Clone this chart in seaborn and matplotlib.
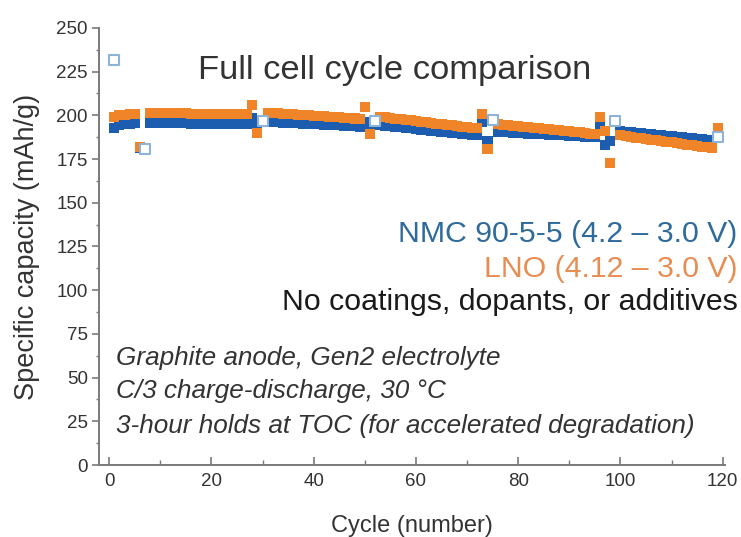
import numpy as np
import pandas as pd
import matplotlib
matplotlib.use("Agg")
import matplotlib.pyplot as plt
import seaborn as sns
from matplotlib import font_manager
from matplotlib.ticker import MultipleLocator

# ---------------- data ----------------
cycles = list(range(1, 120))
nmc = [193.0, 194.3, 194.9, 195.2, 195.4,
       181.3, None,
       195.6, 195.6, 195.5, 195.5, 195.5, 195.4, 195.4, 195.4, 195.3, 195.3,
       195.3, 195.2, 195.2, 195.2, 195.1, 195.1, 195.1, 195.0, 195.0, 195.0,
       198.5, 193.5, None,
       196.4, 196.2, 196.1, 195.9, 195.8, 195.6, 195.5, 195.3, 195.1, 195.0,
       194.8, 194.7, 194.5, 194.4, 194.2, 194.1, 193.9, 193.8, 193.6,
       196.0, 192.5, None,
       194.3, 194.0, 193.7, 193.4, 193.1, 192.8, 192.5, 192.2, 191.9, 191.6,
       191.3, 191.0, 190.7, 190.4, 190.1, 189.8, 189.5, 189.2, 188.9, 188.6,
       196.0, 185.5, None,
       190.5, 190.3, 190.2, 190.0, 189.9, 189.7, 189.6, 189.4, 189.3, 189.1,
       189.0, 188.8, 188.7, 188.5, 188.4, 188.2, 188.1, 187.9, 187.8, 187.6,
       194.0, 183.0, 185.5, None,
       191.0, 190.7, 190.4, 190.1, 189.8, 189.5, 189.2, 188.9, 188.6, 188.3,
       188.0, 187.7, 187.4, 187.1, 186.8, 186.5, 186.2, 185.9, 185.6,
       192.0]
lno = [199.2, 200.0, 200.4, 200.7, 200.9,
       182.0, None,
       201.3, 201.3, 201.2, 201.2, 201.2, 201.1, 201.1, 201.1, 201.0, 201.0,
       201.0, 200.9, 200.9, 200.9, 200.8, 200.8, 200.8, 200.7, 200.7, 200.6,
       206.0, 190.0, None,
       201.6, 201.4, 201.2, 201.0, 200.8, 200.6, 200.4, 200.2, 200.0, 199.8,
       199.6, 199.4, 199.2, 199.0, 198.8, 198.6, 198.4, 198.2, 198.0,
       205.0, 189.5, None,
       199.2, 198.8, 198.5, 198.1, 197.8, 197.4, 197.1, 196.7, 196.4, 196.0,
       195.7, 195.3, 195.0, 194.6, 194.3, 193.9, 193.6, 193.2, 192.9, 192.5,
       201.0, 181.0, None,
       195.0, 194.7, 194.4, 194.1, 193.8, 193.5, 193.2, 192.9, 192.6, 192.3,
       192.0, 191.7, 191.4, 191.1, 190.8, 190.5, 190.2, 189.9, 189.6, 189.3,
       199.0, 191.0, 173.0, None,
       188.5, 188.1, 187.7, 187.3, 186.9, 186.5, 186.1, 185.7, 185.3, 184.9,
       184.5, 184.1, 183.7, 183.3, 182.9, 182.5, 182.1, 181.7, 181.3,
       193.0]
check_cycles = [1, 7, 30, 52, 75, 99, 119]
check_nmc = [231.5, 181.0, 196.5, 197.0, 197.5, 196.5, 187.5]

series_names = ["NMC 90-5-5 (4.2 \u2013 3.0 V)", "LNO (4.12 \u2013 3.0 V)"]
title_text = "Full cell cycle comparison"
note_text = "No coatings, dopants, or additives"
cond_lines = ["Graphite anode, Gen2 electrolyte",
              "C/3 charge-discharge, 30 \u00b0C",
              "3-hour holds at TOC (for accelerated degradation)"]
x_ticks = [0, 20, 40, 60, 80, 100, 120]
y_ticks = [0, 25, 50, 75, 100, 125, 150, 175, 200, 225, 250]

# ---------------- style ----------------
sns.set_theme(style="white")
names = {f.name for f in font_manager.fontManager.ttflist}
main_font = "Liberation Sans" if "Liberation Sans" in names else "DejaVu Sans"
narrow = "Liberation Sans Narrow" in names
tick_font = "Liberation Sans Narrow" if narrow else main_font
plt.rcParams["font.family"] = [main_font, "DejaVu Sans"]

blue = "#1c5db0"
orange = "#ef8428"
txt_blue = "#2e6b9c"
txt_orange = "#e88d52"
gray = "#7a7a7a"

df = pd.DataFrame({
    "cycle": cycles * 2,
    "capacity": [np.nan if v is None else v for v in nmc] +
                [np.nan if v is None else v for v in lno],
    "series": [series_names[0]] * len(cycles) + [series_names[1]] * len(cycles),
}).dropna()
dfc = pd.DataFrame({"cycle": check_cycles, "capacity": check_nmc})

fig = plt.figure(figsize=(7.41, 5.37), dpi=100)
ax = fig.add_axes([0.1336, 0.134, 0.8444, 0.814])

sns.scatterplot(data=df, x="cycle", y="capacity", hue="series",
                palette={series_names[0]: blue, series_names[1]: orange},
                marker="s", s=52, linewidth=0, legend=False, ax=ax,
                clip_on=False, zorder=3)
sns.scatterplot(data=dfc, x="cycle", y="capacity", marker="s", s=52,
                facecolor="white", edgecolor="#8db3d9", linewidth=1.5,
                legend=False, ax=ax, clip_on=False, zorder=4)

ax.set_xlim(-2, 120.4)
ax.set_ylim(0, 250)
ax.set_xticks(x_ticks)
ax.set_yticks(y_ticks)
ax.xaxis.set_minor_locator(MultipleLocator(10))
ax.yaxis.set_minor_locator(MultipleLocator(12.5))
for sp in ["top", "right"]:
    ax.spines[sp].set_visible(False)
for sp in ["left", "bottom"]:
    ax.spines[sp].set_color(gray)
    ax.spines[sp].set_linewidth(1.4)

tsize = 15.5 if narrow else 13.5
ax.tick_params(axis="y", which="major", direction="out", length=5, width=1.2,
               color=gray, left=True, pad=3, labelsize=tsize, labelcolor="#333333")
ax.tick_params(axis="y", which="minor", direction="out", length=2.5, width=1.0,
               color=gray, left=True)
ax.tick_params(axis="x", which="major", direction="in", length=6, width=1.2,
               color=gray, bottom=True, pad=6, labelsize=tsize, labelcolor="#333333")
ax.tick_params(axis="x", which="minor", direction="in", length=3.5, width=1.0,
               color=gray, bottom=True)
for lab in ax.get_xticklabels() + ax.get_yticklabels():
    lab.set_fontfamily([tick_font, "DejaVu Sans"])

ax.set_xlabel("Cycle (number)", fontsize=17, color="#333333", labelpad=18)
ax.set_ylabel("Specific capacity (mAh/g)", fontsize=19.5, color="#333333", labelpad=12)

ax.text(55.9, 225.5, title_text, ha="center", va="center", fontsize=24.8,
        color="#333333")
ax.text(122.9, 127.5, series_names[0], ha="right", va="baseline",
        fontsize=21.8, color=txt_blue, clip_on=False)
ax.text(122.9, 107.5, series_names[1], ha="right", va="baseline",
        fontsize=21.8, color=txt_orange, clip_on=False)
ax.text(122.9, 88.5, note_text, ha="right", va="baseline",
        fontsize=21.8, color="#1a1a1a", clip_on=False)
for txt, yb in zip(cond_lines, [57.1, 38.3, 18.3]):
    ax.text(1.4, yb, txt, ha="left", va="baseline", fontsize=18.8,
            style="italic", color="#333333")

fig.savefig("out.png", dpi=100)
